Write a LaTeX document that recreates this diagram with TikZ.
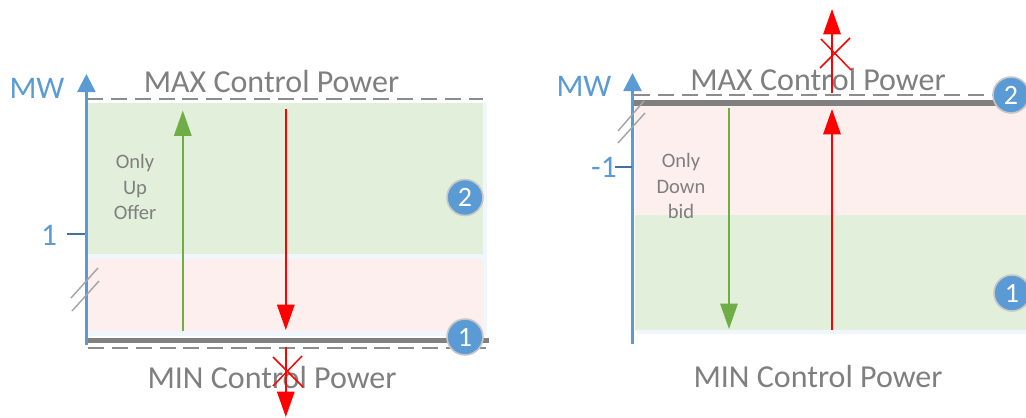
\documentclass[tikz,border=0pt]{standalone}
\usepackage{fontspec}
\setmainfont{Carlito}
\usetikzlibrary{arrows.meta}
\definecolor{axisblue}{HTML}{5B9BD5}
\definecolor{tickblue}{HTML}{41719C}
\definecolor{zonegreen}{HTML}{E2EFDA}
\definecolor{zonepink}{HTML}{FDEFEE}
\definecolor{halo}{HTML}{F1F6FC}
\definecolor{txtgray}{HTML}{7F7F7F}
\definecolor{arrowgreen}{HTML}{70AD47}
\tikzset{
  x=0.75pt,y=-0.75pt,
  axisline/.style={draw=axisblue,line width=1.7pt,-{Triangle[length=13.5pt,width=13.5pt]}},
  tickline/.style={draw=tickblue,line width=1pt},
  axislabel/.style={text=axisblue,font=\fontsize{23.6}{24}\selectfont,inner sep=0pt},
  powerlabel/.style={text=txtgray,font=\fontsize{24}{24}\selectfont,inner sep=0pt},
  sidelabel/.style={text=txtgray,font=\fontsize{15.4}{19}\selectfont,inner sep=0pt,align=center},
  limitdash/.style={draw=black!45,line width=1.1pt,dash pattern=on 12pt off 5.9pt},
  limitbar/.style={draw=black!50,line width=4pt},
  breakline/.style={draw=black!35,line width=1.1pt},
  redarrow/.style={draw=red,line width=1.5pt,-{Triangle[length=19pt,width=13pt]},color=red},
  greenarrow/.style={draw=arrowgreen,line width=1.5pt,-{Triangle[length=19pt,width=13pt]},color=arrowgreen},
  crossline/.style={draw=red,line width=1.1pt},
  badge/.style={circle,fill=axisblue,draw=black!22,line width=1.2pt,minimum size=27pt,inner sep=0pt,text=white,font=\fontsize{21}{21}\selectfont},
  greenzone/.style={fill=zonegreen,draw=none},
  pinkzone/.style={fill=zonepink,draw=none},
  halozone/.style={fill=halo,draw=none}
}
\begin{document}
\begin{tikzpicture}
\useasboundingbox (0,0) rectangle (1026,418);
% ---------- left panel
\fill[halozone] (88,103) rectangle (487,336);
\fill[greenzone] (86,103) rectangle (483,254);
\fill[pinkzone] (86,259) rectangle (483,331);
\node[powerlabel] (maxL) at (271.5,82) {MAX Control Power};
\node[powerlabel] (minL) at (272,378) {MIN Control Power};
\node[axislabel] (mwL) at (37,88) {MW};
\node[axislabel] (oneL) at (49,235) {1};
\node[sidelabel] (onlyL) at (135,187) {Only\\Up\\Offer};
\coordinate (aL0) at (86.4,345); \coordinate (aL1) at (86.4,74);
\coordinate (tL0) at (67,234); \coordinate (tL1) at (85,234);
\coordinate (dtL0) at (87,99); \coordinate (dtL1) at (483,99);
\coordinate (dbL0) at (88,348); \coordinate (dbL1) at (486,348);
\coordinate (bL0) at (86,340.5); \coordinate (bL1) at (489,340.5);
\coordinate (gL0) at (182.8,331); \coordinate (gL1) at (182.8,110.5);
\coordinate (rL0) at (285.8,109); \coordinate (rL1) at (285.8,330);
\coordinate (xL0) at (285.8,347); \coordinate (xL1) at (285.8,417);
\coordinate (c1a) at (273,357); \coordinate (c1b) at (303,387);
\coordinate (c2a) at (302,356); \coordinate (c2b) at (273,386);
\coordinate (k1a) at (71,298); \coordinate (k1b) at (98,268);
\coordinate (k2a) at (72,311); \coordinate (k2b) at (99,281);
\draw[limitdash] (dtL0) -- (dtL1);
\draw[limitdash] (dbL0) -- (dbL1);
\draw[limitbar] (bL0) -- (bL1);
\draw[axisline] (aL0) -- (aL1);
\draw[tickline] (tL0) -- (tL1);
\draw[breakline] (k1a) -- (k1b);
\draw[breakline] (k2a) -- (k2b);
\draw[greenarrow] (gL0) -- (gL1);
\draw[redarrow] (rL0) -- (rL1);
\draw[redarrow] (xL0) -- (xL1);
\draw[crossline] (c1a) -- (c1b);
\draw[crossline] (c2a) -- (c2b);
\node[badge] (b2L) at (465,197.5) {2};
\node[badge] (b1L) at (465,337) {1};
% ---------- right panel
\fill[halozone] (637,106) rectangle (1026,334);
\fill[pinkzone] (635,106) rectangle (1026,215);
\fill[greenzone] (635,215) rectangle (1026,330);
\node[powerlabel] (maxR) at (818,80) {MAX Control Power};
\node[powerlabel] (minR) at (818,377) {MIN Control Power};
\node[axislabel] (mwR) at (584,86) {MW};
\node[axislabel] (oneR) at (604,167) {-1};
\node[sidelabel] (onlyR) at (681,186) {Only\\Down\\bid};
\coordinate (aR0) at (632.5,344); \coordinate (aR1) at (632.5,73);
\coordinate (tR0) at (615,167); \coordinate (tR1) at (632,167);
\coordinate (dtR0) at (634,95); \coordinate (dtR1) at (997,95);
\coordinate (bR0) at (633,103); \coordinate (bR1) at (1000,103);
\coordinate (gR0) at (729,108); \coordinate (gR1) at (729,329);
\coordinate (rR0) at (832,330); \coordinate (rR1) at (832,109);
\coordinate (xR0) at (832,93); \coordinate (xR1) at (832,9);
\coordinate (d1a) at (821,39); \coordinate (d1b) at (851,70);
\coordinate (d2a) at (850,38); \coordinate (d2b) at (820,68);
\coordinate (m1a) at (618,131); \coordinate (m1b) at (644,101);
\coordinate (m2a) at (618,143); \coordinate (m2b) at (645,113);
\draw[limitdash] (dtR0) -- (dtR1);
\draw[limitbar] (bR0) -- (bR1);
\draw[axisline] (aR0) -- (aR1);
\draw[tickline] (tR0) -- (tR1);
\draw[breakline] (m1a) -- (m1b);
\draw[breakline] (m2a) -- (m2b);
\draw[greenarrow] (gR0) -- (gR1);
\draw[redarrow] (rR0) -- (rR1);
\draw[redarrow] (xR0) -- (xR1);
\draw[crossline] (d1a) -- (d1b);
\draw[crossline] (d2a) -- (d2b);
\node[badge] (b2R) at (1011,95) {2};
\node[badge] (b1R) at (1012,293) {1};
\end{tikzpicture}
\end{document}
